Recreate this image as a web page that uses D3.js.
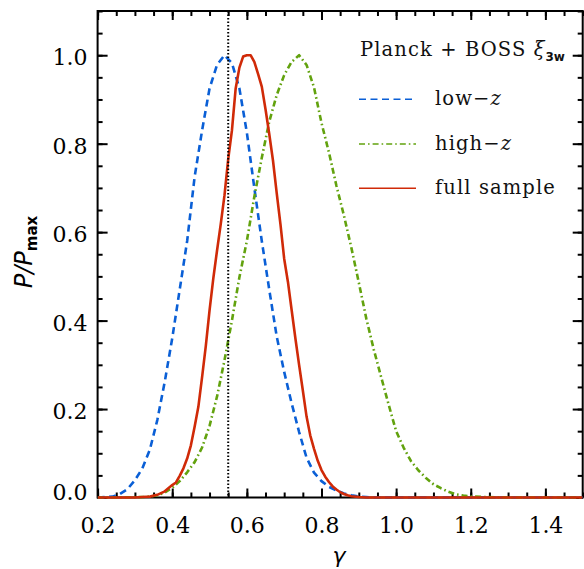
<!DOCTYPE html>
<html><head><meta charset="utf-8">
<script src="https://cdn.jsdelivr.net/npm/d3@7"></script>
<style>html,body{margin:0;padding:0;background:#fff;}svg{display:block;}</style>
</head><body>
<svg id="chart" width="584" height="569"></svg>
<script>
// ---- data ----
const xMajorTicks = [0.2, 0.4, 0.6, 0.8, 1.0, 1.2, 1.4];
const xTickLabels = ["0.2", "0.4", "0.6", "0.8", "1.0", "1.2", "1.4"];
const yMajorTicks = [0.0, 0.2, 0.4, 0.6, 0.8, 1.0];
const yTickLabels = ["0.0", "0.2", "0.4", "0.6", "0.8", "1.0"];
const grValue = 0.55;

const lowZGamma = [0.20,0.22,0.24,0.26,0.28,0.30,0.32,0.34,0.36,0.38,0.40,0.42,0.44,0.46,0.48,0.50,0.52,0.54,0.56,0.58,0.60,0.62,0.64,0.66,0.68,0.70,0.72,0.74,0.76,0.78,0.80,0.82,0.84,0.86,0.88,0.90,0.92,0.94,0.96,1.50];
const lowZ      = [0.000,0.001,0.002,0.008,0.019,0.039,0.066,0.108,0.175,0.262,0.360,0.470,0.580,0.725,0.830,0.925,0.978,1.000,0.982,0.925,0.825,0.700,0.580,0.470,0.364,0.284,0.213,0.148,0.090,0.056,0.037,0.024,0.016,0.009,0.005,0.002,0.001,0.000,0.000,0.000];

const highZGamma = [0.20,0.24,0.28,0.32,0.34,0.36,0.38,0.40,0.42,0.44,0.46,0.48,0.50,0.52,0.54,0.56,0.58,0.60,0.62,0.64,0.66,0.68,0.70,0.72,0.74,0.76,0.78,0.80,0.82,0.84,0.86,0.88,0.90,0.92,0.94,0.96,0.98,1.00,1.02,1.04,1.06,1.08,1.10,1.12,1.14,1.16,1.18,1.20,1.24,1.28,1.32,1.50];
const highZ      = [0.000,0.000,0.0005,0.001,0.002,0.005,0.011,0.022,0.037,0.057,0.080,0.113,0.162,0.228,0.310,0.400,0.498,0.580,0.680,0.768,0.850,0.910,0.955,0.985,1.000,0.978,0.927,0.847,0.780,0.705,0.638,0.565,0.486,0.405,0.335,0.272,0.210,0.150,0.113,0.082,0.061,0.044,0.030,0.021,0.013,0.007,0.0045,0.0025,0.001,0.0004,0.000,0.000];

const fullGamma = [0.20,0.30,0.32,0.34,0.36,0.38,0.40,0.41,0.42,0.43,0.44,0.45,0.46,0.47,0.48,0.49,0.50,0.51,0.52,0.53,0.54,0.55,0.56,0.57,0.58,0.59,0.60,0.61,0.62,0.63,0.64,0.65,0.66,0.67,0.68,0.69,0.70,0.71,0.72,0.73,0.74,0.75,0.76,0.77,0.78,0.79,0.80,0.81,0.82,0.83,0.84,0.85,0.86,0.87,0.88,0.90,0.92,1.50];
const full      = [0.000,0.000,0.001,0.002,0.006,0.014,0.028,0.034,0.049,0.066,0.088,0.118,0.160,0.205,0.272,0.343,0.423,0.495,0.558,0.618,0.683,0.765,0.830,0.925,0.972,0.997,1.000,1.000,0.985,0.958,0.929,0.878,0.822,0.762,0.688,0.618,0.540,0.488,0.424,0.360,0.300,0.242,0.183,0.140,0.110,0.083,0.062,0.047,0.035,0.025,0.018,0.012,0.008,0.005,0.003,0.001,0.000,0.000];

const seriesNames  = ["low\u2212", "high\u2212", "full sample"];
const seriesColors = ["#0a5fd6", "#62a20e", "#d02a08"];

// ---- layout ----
const svg = d3.select("#chart");
const L = 97.6, R = 582.7, T = 11, B = 497.5;
const x = d3.scaleLinear().domain([0.2, 1.5]).range([L, R]);
const y = d3.scaleLinear().domain([0, 1.1]).range([B, T]);
const xMinor = d3.range(0.2, 1.5001, 0.05).map(v => +v.toFixed(2));
const yMinor = d3.range(0, 1.1001, 0.05).map(v => +v.toFixed(2));

const tickFont = "'DejaVu Serif', serif";

function styleAxis(g) {
  g.select(".domain").remove();
  g.selectAll("line").attr("stroke", "#000").attr("stroke-width", 2);
  g.selectAll("text").attr("font-family", tickFont).attr("font-size", 22).attr("fill", "#000");
}

// minor ticks
svg.append("g").attr("transform", `translate(0,${B})`)
  .call(d3.axisBottom(x).tickValues(xMinor).tickSize(-5).tickFormat("")).call(styleAxis);
svg.append("g").attr("transform", `translate(0,${T})`)
  .call(d3.axisTop(x).tickValues(xMinor).tickSize(-5).tickFormat("")).call(styleAxis);
svg.append("g").attr("transform", `translate(${L},0)`)
  .call(d3.axisLeft(y).tickValues(yMinor).tickSize(-5).tickFormat("")).call(styleAxis);
svg.append("g").attr("transform", `translate(${R},0)`)
  .call(d3.axisRight(y).tickValues(yMinor).tickSize(-5).tickFormat("")).call(styleAxis);

// major ticks + labels
svg.append("g").attr("transform", `translate(0,${B})`)
  .call(d3.axisBottom(x).tickValues(xMajorTicks).tickSize(-9).tickPadding(20)
    .tickFormat((d, i) => xTickLabels[i])).call(styleAxis);
svg.append("g").attr("transform", `translate(0,${T})`)
  .call(d3.axisTop(x).tickValues(xMajorTicks).tickSize(-9).tickFormat("")).call(styleAxis);
const yAx = svg.append("g").attr("transform", `translate(${L},0)`)
  .call(d3.axisLeft(y).tickValues(yMajorTicks).tickSize(-10).tickPadding(10)
    .tickFormat((d, i) => yTickLabels[i])).call(styleAxis);
yAx.selectAll("text").attr("dy", d => d === 0 ? "0.1em" : "0.44em");
svg.append("g").attr("transform", `translate(${R},0)`)
  .call(d3.axisRight(y).tickValues(yMajorTicks).tickSize(-10).tickFormat("")).call(styleAxis);

// frame
svg.append("rect").attr("x", L).attr("y", T).attr("width", R - L).attr("height", B - T)
  .attr("fill", "none").attr("stroke", "#000").attr("stroke-width", 2);

// clip
svg.append("clipPath").attr("id", "clip").append("rect")
  .attr("x", L).attr("y", T - 2).attr("width", R - L).attr("height", B - T + 4);

const line = d3.line().x(d => x(d[0])).y(d => y(d[1]));
const plot = svg.append("g").attr("clip-path", "url(#clip)");

const series = [
  {g: lowZGamma, v: lowZ, dash: "7,4.5"},
  {g: highZGamma, v: highZ, dash: "6,3,1.6,3"},
  {g: fullGamma, v: full, dash: null}
];
series.forEach((s, i) => {
  plot.append("path").datum(s.g.map((g, k) => [g, s.v[k]]))
    .attr("d", line).attr("fill", "none")
    .attr("stroke", seriesColors[i]).attr("stroke-width", 2.6)
    .attr("stroke-linejoin", "round")
    .attr("stroke-dasharray", s.dash);
});

// GR dotted line
plot.append("line").attr("x1", x(grValue)).attr("x2", x(grValue))
  .attr("y1", T).attr("y2", B)
  .attr("stroke", "#000").attr("stroke-width", 2).attr("stroke-dasharray", "1.5,2");

// legend
const legFont = "'DejaVu Serif', serif";
const title = svg.append("text").attr("x", 360).attr("y", 56)
  .attr("font-family", legFont).attr("font-size", 19.5).attr("letter-spacing", 1.1).attr("fill", "#111");
title.append("tspan").text("Planck + BOSS ");
title.append("tspan").attr("font-style", "italic").text("\u03be");
title.append("tspan").attr("font-family", "'DejaVu Sans', sans-serif").attr("font-weight", "bold")
  .attr("letter-spacing", 0).attr("font-size", 12).attr("dy", 5).text("3w");

const legY = [99.3, 144, 188.3];
series.forEach((s, i) => {
  svg.append("line").attr("x1", 359).attr("x2", 416).attr("y1", legY[i]).attr("y2", legY[i])
    .attr("stroke", seriesColors[i]).attr("stroke-width", 1.6).attr("stroke-dasharray", s.dash);
  const t = svg.append("text").attr("x", 435).attr("y", legY[i] + 5.5)
    .attr("font-family", legFont).attr("font-size", 19.5).attr("letter-spacing", 1.1).attr("fill", "#111");
  t.append("tspan").text(seriesNames[i]);
  if (i < 2) t.append("tspan").attr("font-style", "italic").text("z");
});

// axis titles
svg.append("text").attr("x", 339).attr("y", 563).attr("text-anchor", "middle")
  .attr("font-family", "'DejaVu Sans', sans-serif").attr("font-style", "italic")
  .attr("font-size", 22).attr("fill", "#000").text("\u03b3");

const yt = svg.append("text").attr("transform", "translate(32,252) rotate(-90)")
  .attr("text-anchor", "middle").attr("font-family", "'DejaVu Sans', sans-serif")
  .attr("font-size", 24).attr("fill", "#000");
yt.append("tspan").attr("font-style", "italic").text("P/P");
yt.append("tspan").attr("font-weight", "bold").attr("font-size", 15).attr("dy", 5).text("max");
</script>
</body></html>
